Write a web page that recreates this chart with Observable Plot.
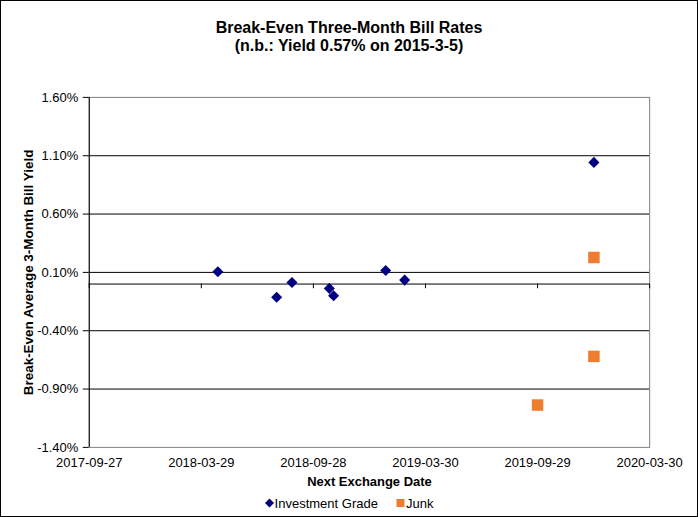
<!DOCTYPE html>
<html>
<head>
<meta charset="utf-8">
<script src="https://cdn.jsdelivr.net/npm/d3@7"></script>
<script src="https://cdn.jsdelivr.net/npm/@observablehq/plot@0.6"></script>
<style>
  html, body { margin: 0; padding: 0; background: #fff; }
  #chart {
    box-sizing: border-box; width: 698px; height: 517px;
    border: 1px solid #000; background: #fff; overflow: hidden;
    font-family: "Liberation Sans", Arial, sans-serif; color: #000;
  }
  #title {
    height: 61px; box-sizing: border-box; padding-top: 18px;
    text-align: center; font-weight: bold; font-size: 16px; line-height: 18px;
  }
  #legend {
    height: 23px; display: flex; justify-content: center; align-items: center;
    font-size: 13px; padding-top: 2px; box-sizing: border-box;
  }
  #legend span.item { display: inline-flex; align-items: center; margin: 0 9px; }
  #legend svg { margin-right: 1px; }
</style>
</head>
<body>
<div id="chart">
  <div id="title">Break-Even Three-Month Bill Rates<br>(n.b.: Yield 0.57% on 2015-3-5)</div>
  <div id="plot"></div>
  <div id="legend"></div>
</div>
<script>
// ---- data ----
const seriesNames = ["Investment Grade", "Junk"];
const seriesColors = ["#000080", "#ED7D31"];

const igDates  = ["2018-04-25", "2018-07-30", "2018-08-24", "2018-10-24", "2018-10-31", "2019-01-24", "2019-02-24", "2019-12-30"];
const igValues = [0.105, -0.113, 0.014, -0.037, -0.100, 0.117, 0.034, 1.043];

const junkDates  = ["2019-12-30", "2019-12-30", "2019-09-29"];
const junkValues = [0.228, -0.620, -1.037];

const xTickLabels = ["2017-09-27", "2018-03-29", "2018-09-28", "2019-03-30", "2019-09-29", "2020-03-30"];
const yTickValues = [-1.4, -0.9, -0.4, 0.1, 0.6, 1.1, 1.6];

const titleX = "Next Exchange Date";
const titleY = "Break-Even Average 3-Month Bill Yield";

// ---- build ----
const parse = d3.utcParse("%Y-%m-%d");
const ig = igDates.map((d, i) => ({date: parse(d), value: igValues[i]}));
const junk = junkDates.map((d, i) => ({date: parse(d), value: junkValues[i]}));
const xTicks = xTickLabels.map(parse);
const xDomain = [xTicks[0], xTicks[xTicks.length - 1]];
const innerGrid = yTickValues.slice(1, -1);

const plot = Plot.plot({
  width: 698,
  height: 430,
  marginLeft: 88,
  marginRight: 48,
  marginTop: 35,
  marginBottom: 44,
  style: {fontFamily: "'Liberation Sans', Arial, sans-serif", fontSize: "13px", color: "#000", background: "#fff", overflow: "visible"},
  x: {type: "utc", domain: xDomain},
  y: {domain: [yTickValues[0], yTickValues[yTickValues.length - 1]]},
  marks: [
    Plot.frame({stroke: "#808080"}),
    Plot.ruleY(innerGrid, {stroke: "#000"}),
    Plot.ruleY([0], {stroke: "#000"}),
    Plot.ruleX([xDomain[0]], {stroke: "#000"}),
    Plot.ruleX(xTicks, {y1: 0, y2: -0.04, stroke: "#000"}),
    Plot.axisY(yTickValues, {tickSize: 6, tickPadding: 5, tickFormat: d => d.toFixed(2) + "%", label: null, fontSize: 13}),
    Plot.axisX(xTicks, {tickSize: 0, tickPadding: 10, tickFormat: d3.utcFormat("%Y-%m-%d"), label: null, fontSize: 13}),
    Plot.text([titleX], {frameAnchor: "bottom", textAnchor: "middle", dy: 39, fontWeight: "bold", fontSize: 13}),
    Plot.text([titleY], {frameAnchor: "left", textAnchor: "middle", rotate: -90, dx: -61, fontWeight: "bold", fontSize: 13.5}),
    Plot.dot(ig, {x: "date", y: "value", symbol: "diamond2", r: 5, fill: seriesColors[0], stroke: null}),
    Plot.dot(junk, {x: "date", y: "value", symbol: "square", r: 6.5, fill: seriesColors[1], stroke: null})
  ]
});
document.getElementById("plot").appendChild(plot);
d3.select(plot).style("display", "block");

// ---- legend ----
const legend = d3.select("#legend");
const shapes = ["diamond", "square"];
seriesNames.forEach((name, i) => {
  const item = legend.append("span").attr("class", "item");
  const s = item.append("svg").attr("width", 9).attr("height", 10).attr("viewBox", "-4.5 -5 9 10");
  if (shapes[i] === "diamond") {
    s.append("path").attr("d", "M0,-4.5L4.5,0L0,4.5L-4.5,0Z").attr("fill", seriesColors[i]);
  } else {
    s.append("rect").attr("x", -4).attr("y", -4).attr("width", 8).attr("height", 8).attr("fill", seriesColors[i]);
  }
  item.append("span").text(name);
});
</script>
</body>
</html>
